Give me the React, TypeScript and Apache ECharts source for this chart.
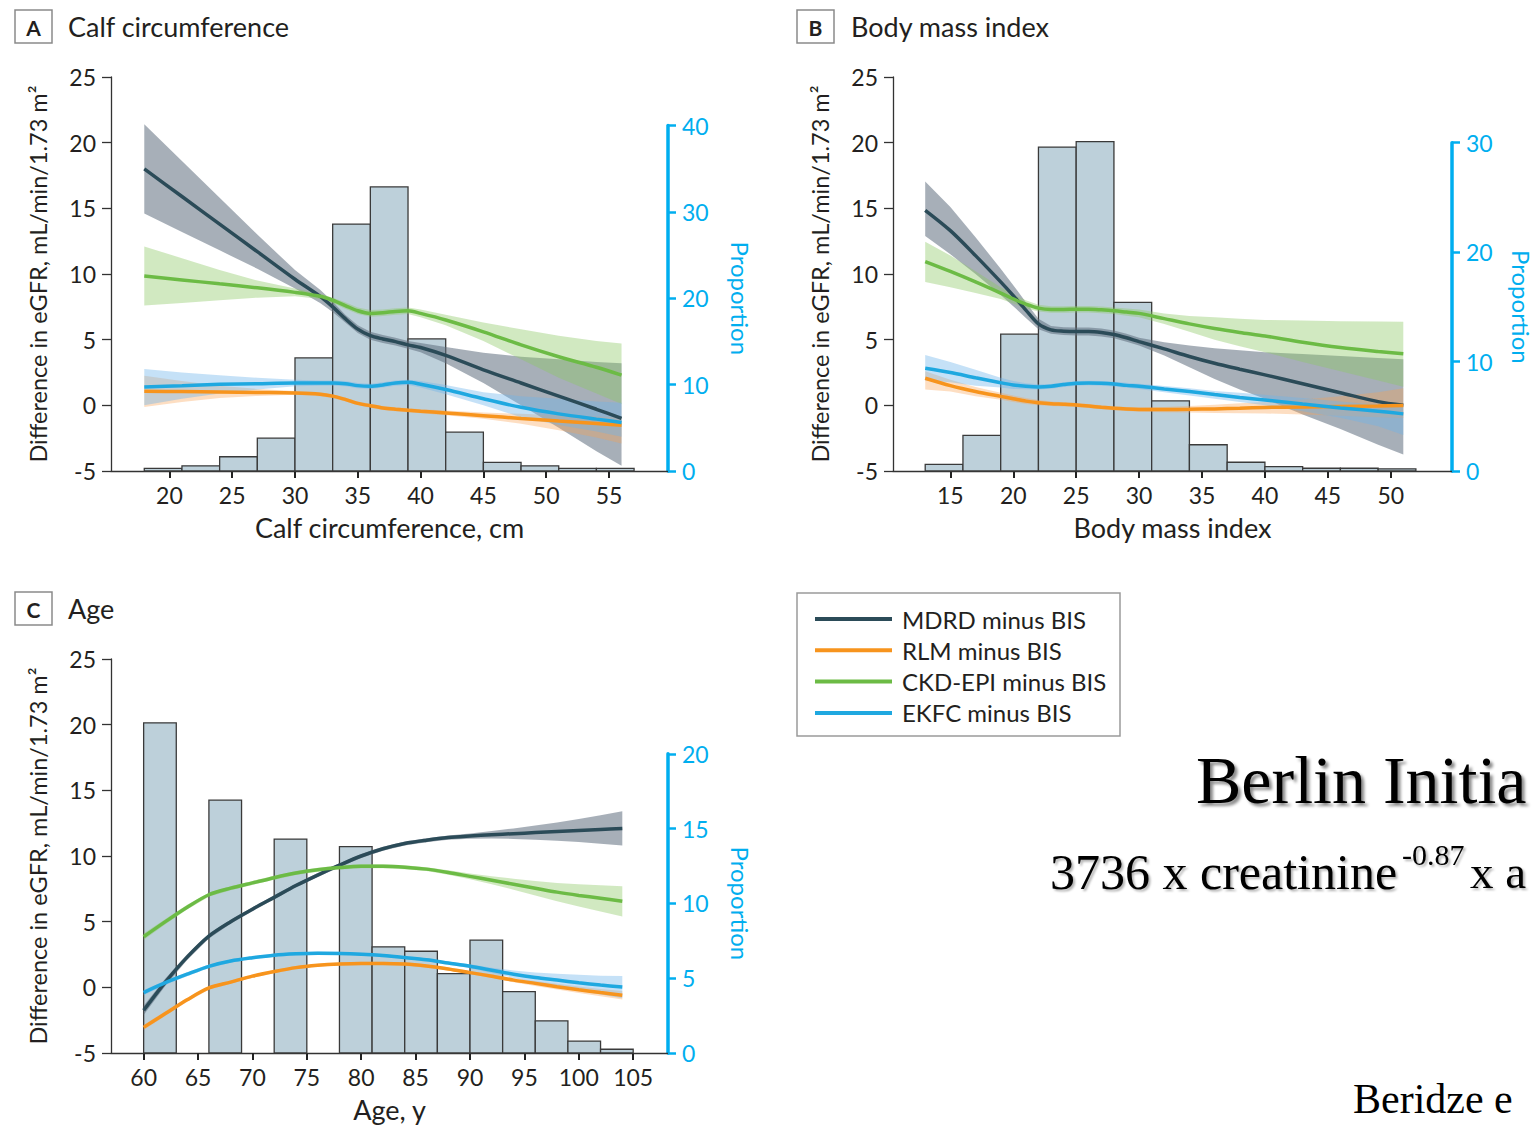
import React, { useEffect, useRef } from "react";
import * as echarts from "echarts";

const FONT = "Lato, 'Noto Sans', 'DejaVu Sans', sans-serif";
const SERIF = "'Liberation Serif', 'DejaVu Serif', serif";
const INK = "#231f20";
const AXIS_BLUE = "#00aeef";

// ---------- shared legend ----------
const seriesNames = ["MDRD minus BIS", "RLM minus BIS", "CKD-EPI minus BIS", "EKFC minus BIS"];
const lineColors = ["#2b4b58", "#f7941d", "#6cbb45", "#1fa8e0"];
const bandColors = [
  "rgba(95,110,125,0.55)",
  "rgba(250,160,80,0.35)",
  "rgba(140,200,100,0.4)",
  "rgba(110,180,235,0.4)",
];

// ---------- Panel A: calf circumference ----------
const calfTicks = [20, 25, 30, 35, 40, 45, 50, 55];
const calfBinStart = [18, 21, 24, 27, 30, 33, 36, 39, 42, 45, 48, 51, 54];
const calfBinEnd = [21, 24, 27, 30, 33, 36, 39, 42, 45, 48, 51, 54, 57];
const calfProportion = [0.3, 0.6, 1.65, 3.8, 13.1, 28.6, 32.9, 15.3, 4.5, 1.0, 0.6, 0.3, 0.3];
const calfX = [18, 21, 24, 27, 30, 32, 33, 34, 35, 36, 37, 38, 39, 40, 42, 45, 48, 51, 54, 56];
const calfMDRD = [18.0, 15.9, 13.8, 11.7, 9.6, 8.3, 7.5, 6.6, 5.8, 5.3, 5.05, 4.85, 4.6, 4.4, 3.8, 2.7, 1.7, 0.7, -0.3, -1.0];
const calfMDRDHigh = [21.4, 18.6, 15.8, 13.0, 10.3, 8.8, 7.9, 6.9, 6.1, 5.6, 5.35, 5.15, 4.9, 4.75, 4.45, 4.0, 3.7, 3.5, 3.3, 3.2];
const calfMDRDLow = [14.6, 13.2, 11.8, 10.4, 8.9, 7.8, 7.1, 6.3, 5.5, 5.0, 4.75, 4.55, 4.3, 4.05, 3.2, 1.7, 0.0, -1.7, -3.5, -4.6];
const calfRLM = [1.07, 1.05, 1.02, 0.98, 0.94, 0.85, 0.7, 0.45, 0.15, -0.03, -0.2, -0.3, -0.38, -0.45, -0.58, -0.79, -1.0, -1.2, -1.38, -1.52];
const calfRLMHigh = [2.26, 1.85, 1.5, 1.25, 1.1, 1.0, 0.85, 0.6, 0.3, 0.12, -0.05, -0.15, -0.23, -0.3, -0.4, -0.55, -0.65, -0.75, -0.85, -0.9];
const calfRLMLow = [-0.13, 0.25, 0.55, 0.72, 0.8, 0.7, 0.55, 0.3, 0.0, -0.18, -0.35, -0.45, -0.53, -0.6, -0.76, -1.03, -1.4, -1.9, -2.45, -2.9];
const calfCKD = [9.85, 9.55, 9.25, 8.95, 8.6, 8.3, 8.0, 7.6, 7.2, 7.0, 7.05, 7.15, 7.2, 7.0, 6.5, 5.6, 4.6, 3.7, 2.9, 2.3];
const calfCKDHigh = [12.1, 11.2, 10.3, 9.5, 8.9, 8.5, 8.2, 7.85, 7.45, 7.25, 7.3, 7.4, 7.45, 7.3, 6.9, 6.3, 5.8, 5.3, 4.9, 4.7];
const calfCKDLow = [7.6, 7.8, 8.0, 8.2, 8.3, 8.1, 7.8, 7.35, 6.95, 6.75, 6.8, 6.9, 6.95, 6.7, 6.1, 4.9, 3.5, 2.1, 0.9, 0.1];
const calfEKFC = [1.4, 1.5, 1.6, 1.65, 1.7, 1.7, 1.7, 1.65, 1.5, 1.45, 1.55, 1.7, 1.75, 1.6, 1.2, 0.5, -0.15, -0.65, -1.05, -1.3];
const calfEKFCHigh = [2.77, 2.5, 2.3, 2.1, 1.95, 1.9, 1.9, 1.85, 1.7, 1.65, 1.75, 1.9, 1.95, 1.85, 1.55, 1.0, 0.7, 0.5, 0.3, 0.2];
const calfEKFCLow = [0.0, 0.5, 0.9, 1.2, 1.45, 1.5, 1.5, 1.45, 1.3, 1.25, 1.35, 1.5, 1.55, 1.35, 0.85, 0.0, -0.9, -1.5, -2.0, -2.4];

// ---------- Panel B: body mass index ----------
const bmiTicks = [15, 20, 25, 30, 35, 40, 45, 50];
const bmiBinStart = [13, 16, 19, 22, 25, 28, 31, 34, 37, 40, 43, 46, 49];
const bmiBinEnd = [16, 19, 22, 25, 28, 31, 34, 37, 40, 43, 46, 49, 52];
const bmiProportion = [0.6, 3.25, 12.5, 29.6, 30.1, 15.4, 6.4, 2.4, 0.8, 0.4, 0.25, 0.25, 0.2];
const bmiX = [13, 15, 17, 19, 20, 21, 22, 23, 24, 25, 26, 27, 28, 29, 30, 32, 34, 36, 38, 40, 43, 46, 49, 51];
const bmiMDRD = [14.85, 13.3, 11.4, 9.4, 8.35, 7.25, 6.2, 5.75, 5.65, 5.62, 5.62, 5.55, 5.4, 5.15, 4.85, 4.3, 3.72, 3.2, 2.75, 2.32, 1.64, 0.96, 0.28, 0.0];
const bmiMDRDHigh = [17.05, 15.1, 12.8, 10.4, 9.15, 7.85, 6.6, 6.05, 5.95, 5.92, 5.92, 5.85, 5.7, 5.45, 5.15, 4.8, 4.55, 4.35, 4.2, 4.05, 3.9, 3.75, 3.6, 3.5];
const bmiMDRDLow = [12.9, 11.5, 10.0, 8.4, 7.55, 6.65, 5.8, 5.45, 5.35, 5.32, 5.32, 5.25, 5.1, 4.85, 4.55, 3.8, 2.9, 2.0, 1.2, 0.5, -0.7, -1.8, -3.0, -3.75];
const bmiRLM = [2.06, 1.5, 1.05, 0.68, 0.5, 0.32, 0.2, 0.12, 0.08, 0.03, -0.05, -0.15, -0.23, -0.28, -0.31, -0.32, -0.3, -0.27, -0.22, -0.16, -0.12, -0.08, -0.05, -0.02];
const bmiRLMHigh = [2.6, 1.95, 1.4, 0.95, 0.75, 0.55, 0.4, 0.3, 0.24, 0.18, 0.1, 0.0, -0.08, -0.12, -0.14, -0.12, -0.05, 0.05, 0.15, 0.25, 0.45, 0.7, 1.0, 1.3];
const bmiRLMLow = [1.2, 1.05, 0.7, 0.42, 0.25, 0.1, 0.0, -0.06, -0.08, -0.12, -0.2, -0.3, -0.38, -0.44, -0.48, -0.52, -0.55, -0.58, -0.6, -0.62, -0.7, -0.8, -0.9, -0.96];
const bmiCKD = [10.95, 10.2, 9.4, 8.55, 8.1, 7.7, 7.4, 7.3, 7.3, 7.32, 7.32, 7.27, 7.2, 7.1, 7.0, 6.6, 6.2, 5.85, 5.55, 5.28, 4.8, 4.4, 4.1, 3.93];
const bmiCKDHigh = [12.45, 11.4, 10.2, 9.0, 8.45, 8.0, 7.65, 7.55, 7.55, 7.57, 7.57, 7.52, 7.45, 7.38, 7.3, 7.0, 6.8, 6.7, 6.6, 6.5, 6.45, 6.4, 6.38, 6.37];
const bmiCKDLow = [9.4, 9.0, 8.55, 8.1, 7.75, 7.4, 7.15, 7.05, 7.05, 7.07, 7.07, 7.02, 6.95, 6.82, 6.7, 6.2, 5.6, 5.0, 4.5, 4.05, 3.3, 2.6, 1.9, 1.42];
const bmiEKFC = [2.82, 2.5, 2.1, 1.72, 1.55, 1.45, 1.4, 1.45, 1.58, 1.68, 1.7, 1.68, 1.62, 1.52, 1.45, 1.25, 1.05, 0.82, 0.6, 0.41, 0.1, -0.2, -0.45, -0.65];
const bmiEKFCHigh = [3.84, 3.3, 2.7, 2.1, 1.85, 1.68, 1.6, 1.63, 1.75, 1.85, 1.87, 1.85, 1.8, 1.72, 1.65, 1.48, 1.3, 1.1, 0.95, 0.8, 0.55, 0.3, 0.05, -0.1];
const bmiEKFCLow = [1.9, 1.75, 1.5, 1.35, 1.25, 1.22, 1.2, 1.27, 1.4, 1.5, 1.53, 1.5, 1.44, 1.34, 1.25, 1.0, 0.75, 0.5, 0.25, 0.0, -0.45, -0.95, -1.6, -2.26];

// ---------- Panel C: age ----------
const ageTicks = [60, 65, 70, 75, 80, 85, 90, 95, 100, 105];
const ageBinStart = [60, 66, 72, 78, 81, 84, 87, 90, 93, 96, 99, 102];
const ageBinEnd = [63, 69, 75, 81, 84, 87, 90, 93, 96, 99, 102, 105];
const ageProportion = [22.07, 16.9, 14.3, 13.8, 7.1, 6.8, 5.3, 7.55, 4.1, 2.15, 0.8, 0.25];
const ageX = [60, 62, 64, 66, 68, 70, 72, 74, 76, 78, 80, 82, 84, 86, 88, 90, 92, 94, 96, 98, 100, 102, 104];
const ageMDRD = [-1.75, 0.4, 2.3, 3.9, 5.0, 5.95, 6.85, 7.75, 8.55, 9.3, 10.0, 10.55, 10.95, 11.2, 11.4, 11.52, 11.62, 11.7, 11.78, 11.86, 11.94, 12.02, 12.1];
const ageMDRDHigh = [-1.4, 0.68, 2.52, 4.08, 5.15, 6.1, 7.0, 7.9, 8.7, 9.45, 10.15, 10.7, 11.1, 11.35, 11.57, 11.72, 11.9, 12.1, 12.33, 12.56, 12.82, 13.1, 13.4];
const ageMDRDLow = [-2.1, 0.12, 2.08, 3.72, 4.85, 5.8, 6.7, 7.6, 8.4, 9.15, 9.85, 10.4, 10.8, 11.05, 11.23, 11.32, 11.34, 11.3, 11.23, 11.16, 11.06, 10.94, 10.8];
const ageRLM = [-3.05, -2.0, -0.95, -0.05, 0.4, 0.85, 1.2, 1.5, 1.68, 1.78, 1.82, 1.82, 1.77, 1.62, 1.4, 1.12, 0.85, 0.55, 0.3, 0.05, -0.18, -0.4, -0.6];
const ageRLMHigh = [-2.85, -1.83, -0.8, 0.08, 0.52, 0.97, 1.32, 1.62, 1.8, 1.9, 1.94, 1.94, 1.89, 1.74, 1.52, 1.24, 0.99, 0.71, 0.49, 0.27, 0.07, -0.12, -0.28];
const ageRLMLow = [-3.25, -2.17, -1.1, -0.18, 0.28, 0.73, 1.08, 1.38, 1.56, 1.66, 1.7, 1.7, 1.65, 1.5, 1.28, 1.0, 0.71, 0.39, 0.11, -0.17, -0.43, -0.68, -0.92];
const ageCKD = [3.85, 5.0, 6.1, 7.05, 7.55, 7.95, 8.35, 8.7, 8.95, 9.12, 9.22, 9.22, 9.15, 9.0, 8.75, 8.45, 8.15, 7.85, 7.55, 7.25, 7.0, 6.78, 6.55];
const ageCKDHigh = [4.1, 5.2, 6.28, 7.2, 7.7, 8.1, 8.5, 8.85, 9.1, 9.27, 9.37, 9.37, 9.3, 9.15, 8.92, 8.67, 8.45, 8.27, 8.1, 7.95, 7.85, 7.78, 7.7];
const ageCKDLow = [3.6, 4.8, 5.92, 6.9, 7.4, 7.8, 8.2, 8.55, 8.8, 8.97, 9.07, 9.07, 9.0, 8.85, 8.58, 8.23, 7.85, 7.43, 7.0, 6.55, 6.15, 5.78, 5.4];
const ageEKFC = [-0.4, 0.35, 1.0, 1.6, 2.0, 2.25, 2.45, 2.55, 2.6, 2.58, 2.52, 2.42, 2.27, 2.1, 1.85, 1.6, 1.3, 1.0, 0.75, 0.55, 0.35, 0.17, 0.02];
const ageEKFCHigh = [-0.2, 0.52, 1.15, 1.73, 2.12, 2.37, 2.57, 2.67, 2.72, 2.7, 2.64, 2.54, 2.39, 2.22, 1.97, 1.75, 1.5, 1.28, 1.13, 1.03, 0.95, 0.89, 0.87];
const ageEKFCLow = [-0.6, 0.18, 0.85, 1.47, 1.88, 2.13, 2.33, 2.43, 2.48, 2.46, 2.4, 2.3, 2.15, 1.98, 1.73, 1.45, 1.1, 0.72, 0.37, 0.07, -0.25, -0.55, -0.83];

const yAxisName = "Difference in eGFR, mL/min/1.73 m²";

const panels = [
  {
    letter: "A", title: "Calf circumference", xName: "Calf circumference, cm",
    xMin: 15.35, xMax: 59.7, ticks: calfTicks, propMax: 40, propInterval: 10,
    binStart: calfBinStart, binEnd: calfBinEnd, prop: calfProportion, x: calfX,
    curves: [
      [calfMDRD, calfMDRDLow, calfMDRDHigh],
      [calfRLM, calfRLMLow, calfRLMHigh],
      [calfCKD, calfCKDLow, calfCKDHigh],
      [calfEKFC, calfEKFCLow, calfEKFCHigh],
    ],
    left: 111, top: 77, width: 557, propTop: 125.6, boxX: 15, boxY: 10, titleX: 68, propGap: 60,
  },
  {
    letter: "B", title: "Body mass index", xName: "Body mass index",
    xMin: 10.44, xMax: 54.87, ticks: bmiTicks, propMax: 30, propInterval: 10,
    binStart: bmiBinStart, binEnd: bmiBinEnd, prop: bmiProportion, x: bmiX,
    curves: [
      [bmiMDRD, bmiMDRDLow, bmiMDRDHigh],
      [bmiRLM, bmiRLMLow, bmiRLMHigh],
      [bmiCKD, bmiCKDLow, bmiCKDHigh],
      [bmiEKFC, bmiEKFCLow, bmiEKFCHigh],
    ],
    left: 893, top: 77, width: 559, propTop: 142.7, boxX: 797, boxY: 10, titleX: 851, propGap: 57,
  },
  {
    letter: "C", title: "Age", xName: "Age, y",
    xMin: 57.0, xMax: 108.2, ticks: ageTicks, propMax: 20, propInterval: 5,
    binStart: ageBinStart, binEnd: ageBinEnd, prop: ageProportion, x: ageX,
    curves: [
      [ageMDRD, ageMDRDLow, ageMDRDHigh],
      [ageRLM, ageRLMLow, ageRLMHigh],
      [ageCKD, ageCKDLow, ageCKDHigh],
      [ageEKFC, ageEKFCLow, ageEKFCHigh],
    ],
    left: 111, top: 659, width: 557, propTop: 753.8, boxX: 15, boxY: 592, titleX: 68, propGap: 60,
  },
];

function buildOption() {
  const grid: any[] = [];
  const xAxis: any[] = [];
  const yAxis: any[] = [];
  const series: any[] = [];
  const graphic: any[] = [];
  const H = 394;

  panels.forEach((p, k) => {
    const g = k * 2;
    const bottom = p.top + H;
    grid.push({ left: p.left, top: p.top, width: p.width, height: H, containLabel: false, outerBoundsMode: "none" });
    grid.push({ left: p.left, top: p.propTop, width: p.width, height: bottom - p.propTop, containLabel: false, outerBoundsMode: "none" });

    xAxis.push({
      gridIndex: g, type: "value", min: p.xMin, max: p.xMax,
      axisLine: { show: true, onZero: false, lineStyle: { color: "#333", width: 1.3 } },
      axisTick: { show: true, length: 7, lineStyle: { color: "#222", width: 2 }, customValues: p.ticks },
      axisLabel: { customValues: p.ticks, fontSize: 23, color: INK, margin: 12, fontFamily: FONT },
      splitLine: { show: false },
      name: p.xName, nameLocation: "middle", nameGap: 43, nameMoveOverlap: false,
      nameTextStyle: { fontSize: 27, color: INK, fontFamily: FONT },
    });
    xAxis.push({ gridIndex: g + 1, type: "value", min: p.xMin, max: p.xMax, show: false });

    yAxis.push({
      gridIndex: g, type: "value", min: -5, max: 25, interval: 5, position: "left",
      axisLine: { show: true, onZero: false, lineStyle: { color: "#333", width: 1.3 } },
      axisTick: { show: true, length: 9, lineStyle: { color: "#333", width: 1.3 } },
      axisLabel: { fontSize: 23, color: INK, margin: 15, fontFamily: FONT },
      splitLine: { show: false },
      name: yAxisName, nameLocation: "middle", nameRotate: 90, nameGap: 61, nameMoveOverlap: false,
      nameTextStyle: { fontSize: 23.5, color: INK, fontFamily: FONT },
    });
    yAxis.push({
      gridIndex: g + 1, type: "value", min: 0, max: p.propMax, interval: p.propInterval, position: "right",
      axisLine: { show: true, onZero: false, lineStyle: { color: AXIS_BLUE, width: 3.5 } },
      axisTick: { show: true, length: 8, lineStyle: { color: AXIS_BLUE, width: 2.5 } },
      axisLabel: { fontSize: 23, color: AXIS_BLUE, margin: 14, fontFamily: FONT },
      splitLine: { show: false },
      name: "Proportion", nameLocation: "middle", nameRotate: -90, nameGap: p.propGap, nameMoveOverlap: false,
      nameTextStyle: { fontSize: 24, color: AXIS_BLUE, fontFamily: FONT },
    });

    // histogram
    series.push({
      type: "custom", xAxisIndex: g + 1, yAxisIndex: g + 1, clip: false, z: 1, silent: true,
      data: p.binStart.map((s, i) => [s, p.binEnd[i], p.prop[i]]),
      encode: { x: [0, 1], y: 2 },
      renderItem: (params: any, api: any) => {
        const a = api.coord([api.value(0), api.value(2)]);
        const b = api.coord([api.value(1), 0]);
        return {
          type: "rect",
          shape: { x: a[0], y: a[1], width: b[0] - a[0], height: b[1] - a[1] },
          style: { fill: "#bdd0da", stroke: "#3a3a3a", lineWidth: 1.3 },
        };
      },
    });

    // confidence bands
    p.curves.forEach((c, ci) => {
      const [, lo, hi] = c;
      series.push({
        type: "custom", xAxisIndex: g, yAxisIndex: g, z: 2, silent: true,
        data: p.x.map((xv, i) => [xv, lo[i], hi[i]]),
        encode: { x: 0, y: [1, 2] },
        renderItem: (params: any, api: any) => {
          if (params.dataIndex !== 0) return null;
          const up = p.x.map((xv, i) => api.coord([xv, hi[i]]));
          const dn = p.x.map((xv, i) => api.coord([xv, lo[i]])).reverse();
          return { type: "polygon", shape: { points: up.concat(dn) }, style: { fill: bandColors[ci] } };
        },
      });
    });

    // estimate lines
    p.curves.forEach((c, ci) => {
      const [v] = c;
      series.push({
        type: "line", name: seriesNames[ci], xAxisIndex: g, yAxisIndex: g, z: 3, silent: true,
        data: p.x.map((xv, i) => [xv, v[i]]),
        smooth: 0.3, showSymbol: false, symbol: "none",
        lineStyle: { color: lineColors[ci], width: 3.5 },
        itemStyle: { color: lineColors[ci] },
      });
    });

    // panel letter box + title
    graphic.push({
      type: "rect", shape: { x: p.boxX, y: p.boxY, width: 37, height: 33 },
      style: { fill: "#fff", stroke: "#8a8a8a", lineWidth: 1.5 },
    });
    graphic.push({
      type: "text", x: p.boxX + 18.5, y: p.boxY + 17,
      style: { text: p.letter, fontSize: 21, fontWeight: "bold", fill: INK, align: "center", verticalAlign: "middle", fontFamily: FONT },
    });
    graphic.push({
      type: "text", x: p.titleX, y: p.boxY + 16.5,
      style: { text: p.title, fontSize: 27, fill: INK, verticalAlign: "middle", fontFamily: FONT },
    });
  });

  // legend box
  graphic.push({
    type: "rect", shape: { x: 797, y: 593, width: 323, height: 143 },
    style: { fill: "#fff", stroke: "#9a9a9a", lineWidth: 1.5 },
  });
  seriesNames.forEach((n, i) => {
    const y = 619 + i * 31.3;
    graphic.push({ type: "line", shape: { x1: 815, y1: y, x2: 892, y2: y }, style: { stroke: lineColors[i], lineWidth: 4 } });
    graphic.push({
      type: "text", x: 902, y,
      style: { text: n, fontSize: 24, fill: INK, verticalAlign: "middle", fontFamily: FONT },
    });
  });

  // slide text fragments at the right
  const shadow = { textShadowColor: "rgba(0,0,0,0.45)", textShadowBlur: 3, textShadowOffsetX: 3, textShadowOffsetY: 3 };
  graphic.push({
    type: "text", x: 1196, y: 780,
    style: { text: "Berlin Initia", fontSize: 68, fill: "#000", verticalAlign: "middle", fontFamily: SERIF, ...shadow },
  });
  const shadow2 = { textShadowColor: "rgba(0,0,0,0.3)", textShadowBlur: 2, textShadowOffsetX: 2, textShadowOffsetY: 2 };
  graphic.push({
    type: "text", x: 1050, y: 872,
    style: { text: "3736 x creatinine", fontSize: 50, fill: "#000", verticalAlign: "middle", fontFamily: SERIF, ...shadow2 },
  });
  graphic.push({
    type: "text", x: 1402, y: 854,
    style: { text: "-0.87", fontSize: 30, fill: "#000", verticalAlign: "middle", fontFamily: SERIF, ...shadow2 },
  });
  graphic.push({
    type: "text", x: 1470, y: 872,
    style: { text: "x a", fontSize: 47, fill: "#000", verticalAlign: "middle", fontFamily: SERIF, ...shadow2 },
  });
  graphic.push({
    type: "text", x: 1353, y: 1099,
    style: { text: "Beridze e", fontSize: 42, fill: "#000", verticalAlign: "middle", fontFamily: SERIF },
  });

  return {
    animation: false,
    backgroundColor: "#ffffff",
    textStyle: { fontFamily: FONT },
    grid, xAxis, yAxis, series, graphic,
  };
}

export default function App() {
  const ref = useRef<HTMLDivElement>(null);
  useEffect(() => {
    if (!ref.current) return;
    const chart = echarts.init(ref.current, undefined, { renderer: "svg" });
    chart.setOption(buildOption() as any);
    return () => chart.dispose();
  }, []);
  return (
    <div
      ref={ref}
      style={{ position: "absolute", left: 0, top: 0, width: 1535, height: 1125, background: "#fff" }}
    />
  );
}
